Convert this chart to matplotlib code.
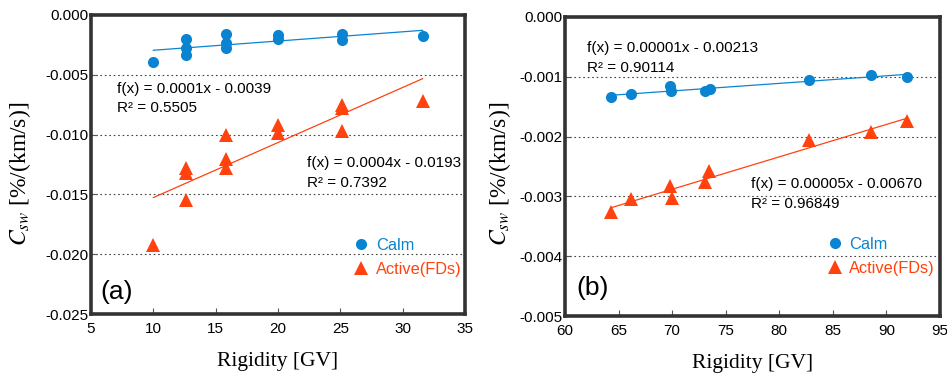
import numpy as np
import matplotlib
matplotlib.use("Agg")
import matplotlib.pyplot as plt
from matplotlib.lines import Line2D

plt.rcParams['font.family'] = ['Liberation Sans', 'DejaVu Sans']
plt.rcParams['mathtext.fontset'] = 'stix'

# ---- data panel (a) ----
a_calm_x = [10.0, 12.6, 12.6, 12.6, 15.8, 15.8, 15.8, 20.0, 20.0, 25.1, 25.1, 31.6]
a_calm_y = [-0.00397, -0.00203, -0.00278, -0.00333, -0.00160, -0.00236, -0.00272,
            -0.00167, -0.00200, -0.00160, -0.00208, -0.00175]
a_act_x = [10.0, 12.6, 12.6, 12.6, 15.8, 15.8, 15.8, 20.0, 20.0, 25.1, 25.1, 25.1, 31.6]
a_act_y = [-0.01925, -0.0128, -0.0132, -0.0155, -0.0100, -0.0120, -0.0128,
           -0.0092, -0.0099, -0.0075, -0.0078, -0.0097, -0.0072]
a_xticks = [5, 10, 15, 20, 25, 30, 35]
a_yticks = [0.000, -0.005, -0.010, -0.015, -0.020, -0.025]
a_calm_fit = ["f(x) = 0.0001x - 0.0039", "R² = 0.5505"]
a_act_fit = ["f(x) = 0.0004x - 0.0193", "R² = 0.7392"]

# ---- data panel (b) ----
b_calm_x = [64.3, 66.2, 69.8, 69.9, 73.1, 73.5, 82.8, 88.6, 91.9]
b_calm_y = [-0.001345, -0.00129, -0.00116, -0.00123, -0.00124, -0.00121, -0.00105, -0.00097, -0.00100]
b_act_x = [64.3, 66.2, 69.8, 70.0, 73.1, 73.4, 82.8, 88.6, 91.9]
b_act_y = [-0.00326, -0.00304, -0.00282, -0.00302, -0.00276, -0.00258, -0.00206, -0.00193, -0.00174]
b_xticks = [60, 65, 70, 75, 80, 85, 90, 95]
b_yticks = [0.000, -0.001, -0.002, -0.003, -0.004, -0.005]
b_calm_fit = ["f(x) = 0.00001x - 0.00213", "R² = 0.90114"]
b_act_fit = ["f(x) = 0.00005x - 0.00670", "R² = 0.96849"]

BLUE = '#0a84d1'
ORANGE = '#ff420e'
FRAME = '#333333'

fig = plt.figure(figsize=(9.47, 3.76), dpi=100)
axA = fig.add_axes([91/947, 1-314/376, 374/947, 299/376])
axB = fig.add_axes([565/947, 1-316/376, 375/947, 299/376])


def style(ax, xticks, yticks, fmt, ylab_xy):
    ax.set_xlim(xticks[0], xticks[-1])
    ax.set_ylim(yticks[-1], yticks[0])
    ax.set_xticks(xticks)
    ax.set_yticks(yticks)
    ax.set_xticklabels([str(t) for t in xticks])
    ax.set_yticklabels([fmt.format(t) for t in yticks])
    for s in ax.spines.values():
        s.set_color(FRAME)
        s.set_linewidth(2.6)
    ax.tick_params(direction='in', length=4, width=0.8, color='#555555',
                   labelsize=11, pad=2)
    ax.tick_params(axis='x', pad=6)
    for t in yticks[1:-1]:
        ax.axhline(t, color='#444444', lw=0.8, ls=(0, (1.5, 2.5)), zorder=0)
    ax.set_xlabel('Rigidity [GV]', family='Liberation Serif', fontsize=15.5, labelpad=11)
    ax.set_ylabel(r'$C_{sw}$ [%/(km/s)]', family='Liberation Serif', fontsize=17)
    ax.yaxis.set_label_coords(*ylab_xy)


def panel(ax, cx, cy, ax_, ay, fits1, fits2, pos1, pos2, label, labpos, legpos):
    ax.plot(cx, cy, 'o', color=BLUE, ms=8, mew=0, zorder=3)
    ax.plot(ax_, ay, '^', color=ORANGE, ms=10.5, mew=0, zorder=3)
    for xs, ys, c in [(cx, cy, BLUE), (ax_, ay, ORANGE)]:
        p = np.polyfit(xs, ys, 1)
        xx = np.array([min(xs), max(xs)])
        ax.plot(xx, np.polyval(p, xx), color=c, lw=0.9, zorder=2)
    for (x, y), lines in [(pos1, fits1), (pos2, fits2)]:
        ax.text(x, y[0], lines[0], transform=ax.transAxes, fontsize=11, va='center', ha='left')
        ax.text(x, y[1], lines[1], transform=ax.transAxes, fontsize=11, va='center', ha='left')
    ax.text(labpos[0], labpos[1], label, transform=ax.transAxes, fontsize=19,
            va='center', ha='center')
    handles = [Line2D([], [], ls='none', marker='o', color=BLUE, ms=8, mew=0),
               Line2D([], [], ls='none', marker='^', color=ORANGE, ms=10.5, mew=0)]
    ax.legend(handles, ['Calm', 'Active(FDs)'], loc='upper left', bbox_to_anchor=legpos,
              frameon=False, fontsize=11.8, handlelength=1.0, handletextpad=0.4,
              borderpad=0, borderaxespad=0, labelspacing=0.55,
              labelcolor=[BLUE, ORANGE])


style(axA, a_xticks, a_yticks, '{:.3f}', (-0.155, 0.468))
style(axB, b_xticks, b_yticks, '{:.3f}', (-0.139, 0.475))

panel(axA, a_calm_x, a_calm_y, a_act_x, a_act_y, a_calm_fit, a_act_fit,
      (0.0695, (0.7525, 0.689)), (0.5775, (0.505, 0.438)), '(a)', (0.0695, 0.075),
      (0.700, 0.255))
panel(axB, b_calm_x, b_calm_y, b_act_x, b_act_y, b_calm_fit, b_act_fit,
      (0.058, (0.895, 0.828)), (0.495, (0.4415, 0.375)), '(b)', (0.074, 0.0926),
      (0.697, 0.265))

fig.savefig('out.png', dpi=100)
